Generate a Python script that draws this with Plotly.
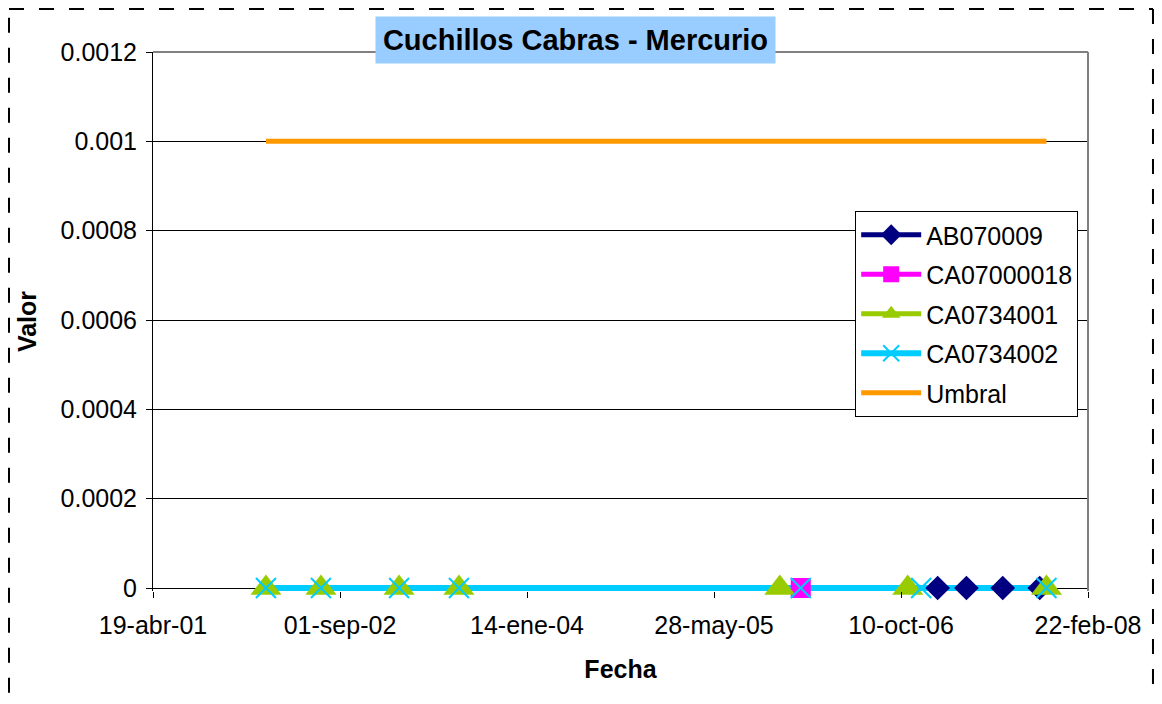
import plotly.graph_objects as go

# Data
ab070009_dates = ["2007-01-16", "2007-04-03", "2007-07-09", "2007-10-16"]
ab070009_vals = [0, 0, 0, 0]

ca07000018_dates = ["2006-01-15"]
ca07000018_vals = [0]

ca0734001_dates = ["2002-02-15", "2002-07-12", "2003-02-06", "2003-07-16",
                   "2005-11-20", "2006-10-28", "2007-11-03"]
ca0734001_vals = [0, 0, 0, 0, 0, 0, 0]

ca0734002_dates = ["2002-02-15", "2002-07-12", "2003-02-06", "2003-07-16",
                   "2006-01-15", "2006-12-03", "2007-11-03"]
ca0734002_vals = [0, 0, 0, 0, 0, 0, 0]

umbral_dates = ["2002-02-15", "2007-11-03"]
umbral_vals = [0.001, 0.001]

x_tickvals = ["2001-04-19", "2002-09-01", "2004-01-14", "2005-05-28",
              "2006-10-10", "2008-02-22"]
x_ticktext = ["19-abr-01", "01-sep-02", "14-ene-04", "28-may-05",
              "10-oct-06", "22-feb-08"]
y_tickvals = [0, 0.0002, 0.0004, 0.0006, 0.0008, 0.001, 0.0012]
y_ticktext = ["0", "0.0002", "0.0004", "0.0006", "0.0008", "0.001", "0.0012"]

FONT = "Liberation Sans, Arial, sans-serif"

# name, x, y, colour, line width, marker symbol, marker size
series = [
    ("AB070009", ab070009_dates, ab070009_vals, "#000080", 5, "diamond", 19),
    ("CA07000018", ca07000018_dates, ca07000018_vals, "#FF00FF", 5, "square", 20),
    ("CA0734001", ca0734001_dates, ca0734001_vals, "#99CC00", 5, "triangle-up", 27),
    ("CA0734002", ca0734002_dates, ca0734002_vals, "#00CCFF", 6, "x-thin", 20),
]


def marker_style(color, symbol, size):
    if symbol == "x-thin":
        return dict(symbol=symbol, size=size, line=dict(color=color, width=2))
    return dict(symbol=symbol, size=size, color=color)


fig = go.Figure()

# like Excel: all lines first, then all markers on top
fig.add_trace(go.Scatter(x=umbral_dates, y=umbral_vals, name="Umbral",
                         mode="lines", line=dict(color="#FF9900", width=5),
                         legendrank=5, legendgroup="Umbral"))
for name, xs, ys, color, lw, symbol, size in series:
    fig.add_trace(go.Scatter(x=xs, y=ys, mode="lines", showlegend=False,
                             line=dict(color=color, width=lw), legendgroup=name))
for i, (name, xs, ys, color, lw, symbol, size) in enumerate(series):
    fig.add_trace(go.Scatter(x=xs, y=ys, mode="markers", showlegend=False,
                             marker=marker_style(color, symbol, size),
                             cliponaxis=False, legendgroup=name))
    # legend entry (line + marker)
    fig.add_trace(go.Scatter(x=[None], y=[None], name=name, mode="lines+markers",
                             line=dict(color=color, width=lw),
                             marker=marker_style(color, symbol, min(size, 20)),
                             legendrank=i + 1, legendgroup=name))

fig.update_layout(
    width=1146, height=688,
    margin=dict(l=145, r=66, t=44, b=105),
    paper_bgcolor="white", plot_bgcolor="white",
    font=dict(family=FONT, size=25, color="black"),
    showlegend=True,
    legend=dict(x=0.751, y=0.705, xanchor="left", yanchor="top",
                bordercolor="black", borderwidth=1, bgcolor="white",
                font=dict(size=25), tracegroupgap=4, itemwidth=60),
    xaxis=dict(type="date", range=["2001-04-19", "2008-02-22"],
               tickvals=x_tickvals, ticktext=x_ticktext,
               showgrid=False, showline=False,
               ticks="outside", ticklen=6, tickcolor="black",
               ticklabelstandoff=6, zeroline=False,
               title=dict(text="<b>Fecha</b>", font=dict(size=25), standoff=22)),
    yaxis=dict(range=[-0.0000067, 0.0012], tickvals=y_tickvals, ticktext=y_ticktext,
               showgrid=True, gridcolor="black", gridwidth=1,
               showline=True, linecolor="black", linewidth=1,
               ticks="outside", ticklen=6, tickcolor="black",
               ticklabelstandoff=4,
               zeroline=True, zerolinecolor="black", zerolinewidth=1,
               title=dict(text="<b>Valor</b>", font=dict(size=25), standoff=16)),
)

# grey top/right plot-area border
fig.add_shape(type="line", xref="paper", yref="paper", x0=0, x1=1, y0=1, y1=1,
              line=dict(color="#808080", width=2))
fig.add_shape(type="line", xref="paper", yref="paper", x0=1, x1=1, y0=0, y1=1,
              line=dict(color="#808080", width=2))

# dashed chart-area border (left, top, right)
dash = dict(color="black", width=2, dash="longdash")
fig.add_shape(type="line", xref="paper", yref="paper", x0=-0.154, x1=-0.154,
              y0=-0.3, y1=1.08, line=dash, layer="below")
fig.add_shape(type="line", xref="paper", yref="paper", x0=-0.154, x1=1.0695,
              y0=1.08, y1=1.08, line=dash, layer="below")
fig.add_shape(type="line", xref="paper", yref="paper", x0=1.0695, x1=1.0695,
              y0=1.08, y1=-0.3, line=dash, layer="below")

# title box
fig.add_annotation(text="<b>Cuchillos Cabras - Mercurio</b>", xref="paper", yref="paper",
                   x=0.452, y=1.022, xanchor="center", yanchor="middle", showarrow=False,
                   font=dict(size=29, family=FONT), bgcolor="#99CCFF",
                   width=397, height=44)

fig.write_html("out.html")
